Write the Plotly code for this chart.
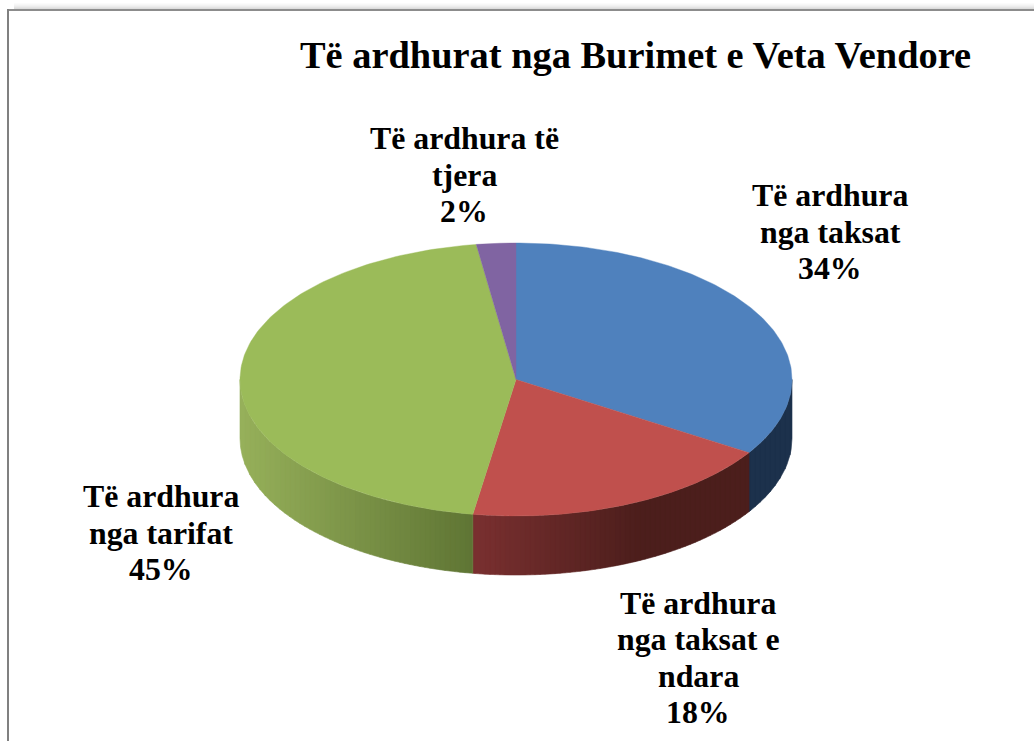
import numpy as np
import plotly.graph_objects as go

TITLE = "Të ardhurat nga Burimet e Veta Vendore"
categories = ["Të ardhura<br>nga taksat", "Të ardhura<br>nga taksat e<br>ndara", "Të ardhura<br>nga tarifat", "Të ardhura të<br>tjera"]
values = [34.0, 18.5, 45.2, 2.3]

top_colors = ["#4f81bd", "#c0504d", "#9bbb59", "#8064a2"]
side_left = [(28, 49, 76), (122, 48, 48), (150, 176, 90), (60, 48, 80)]
side_right = [(28, 49, 76), (76, 30, 28), (95, 117, 52), (60, 48, 80)]
side_span = [(473, 792), (473, 640), (241, 473), (241, 473)]
label_xy = [(830, 232), (698, 658), (161, 533), (464, 175)]

CX, CY, RX, RY, DEPTH = 516, 379.5, 276, 136.5, 59
FONT = "Liberation Serif"
LINE_STEP = 36.6


def px(t):
    return CX + RX * np.sin(t)


def py(t):
    return CY - RY * np.cos(t)


fig = go.Figure()


def poly(xs, ys, color, lw=0.6):
    fig.add_trace(go.Scatter(x=xs, y=ys, mode="lines", fill="toself", fillcolor=color,
                             line=dict(color=color, width=lw), hoverinfo="skip", showlegend=False))


fractions = np.cumsum([0] + values) / sum(values)
starts = fractions[:-1] * 2 * np.pi
ends = fractions[1:] * 2 * np.pi

# rim of the disc, split into narrow vertical bands for the shading
for i in range(len(values)):
    a = max(starts[i], np.pi / 2)
    b = min(ends[i], 3 * np.pi / 2)
    if b <= a:
        continue
    edges = np.arcsin(np.clip((np.arange(-RX, RX + 1, 5)) / RX, -1, 1))
    back = np.pi - edges  # front half of the disc
    cuts = np.unique(np.concatenate([[a, b], back[(back > a) & (back < b)]]))
    for t0, t1 in zip(cuts[:-1], cuts[1:]):
        ts = np.linspace(t0, t1, 4)
        xm = px((t0 + t1) / 2)
        x0, x1 = side_span[i]
        f = float(np.clip((xm - x0) / (x1 - x0), 0, 1))
        c = [round(side_left[i][k] + f * (side_right[i][k] - side_left[i][k])) for k in range(3)]
        xs = np.concatenate([px(ts), px(ts)[::-1], px(ts)[:1]])
        ys = np.concatenate([py(ts), py(ts)[::-1] + DEPTH, py(ts)[:1]])
        poly(xs.tolist(), ys.tolist(), f"rgb({c[0]},{c[1]},{c[2]})")

# top face of each slice
for i in range(len(values)):
    ts = np.linspace(starts[i], ends[i], 160)
    xs = [CX] + px(ts).tolist() + [CX]
    ys = [CY] + py(ts).tolist() + [CY]
    poly(xs, ys, top_colors[i], lw=0.4)

annotations = [dict(x=635, y=55, text=f"<b>{TITLE}</b>", showarrow=False, xref="x", yref="y",
                    font=dict(family=FONT, size=38.4, color="#000000"))]
for cat, val, (lx, ly) in zip(categories, values, label_xy):
    lines = cat.split("<br>") + [f"{round(val)}%"]
    for n, line in enumerate(lines):
        annotations.append(dict(x=lx, y=ly + (n - (len(lines) - 1) / 2) * LINE_STEP,
                                text=f"<b>{line}</b>", showarrow=False,
                                xref="x", yref="y", align="center",
                                font=dict(family=FONT, size=31.8, color="#000000")))

shapes = []
# soft shadow over the chart frame
for k, col in enumerate(["#fbfbfb", "#f7f7f7", "#f2f2f2", "#ececec", "#e4e4e4", "#dcdcdc"]):
    shapes.append(dict(type="line", x0=14, x1=1034, y0=3.5 + k, y1=3.5 + k, line=dict(color=col, width=1), layer="below"))
shapes.append(dict(type="line", x0=7, x1=1034, y0=10, y1=10, line=dict(color="#8c8c8c", width=2), layer="below"))
shapes.append(dict(type="line", x0=8, x1=8, y0=9, y1=741, line=dict(color="#808080", width=2), layer="below"))

fig.update_layout(
    width=1034, height=741, autosize=False,
    margin=dict(l=0, r=0, t=0, b=0),
    paper_bgcolor="#ffffff", plot_bgcolor="#ffffff",
    xaxis=dict(range=[0, 1034], visible=False, fixedrange=True),
    yaxis=dict(range=[741, 0], visible=False, fixedrange=True),
    annotations=annotations, shapes=shapes,
)
fig.write_html("out.html", config={"displayModeBar": False},
               post_script="document.body.style.margin='0';document.body.style.overflow='hidden';")
